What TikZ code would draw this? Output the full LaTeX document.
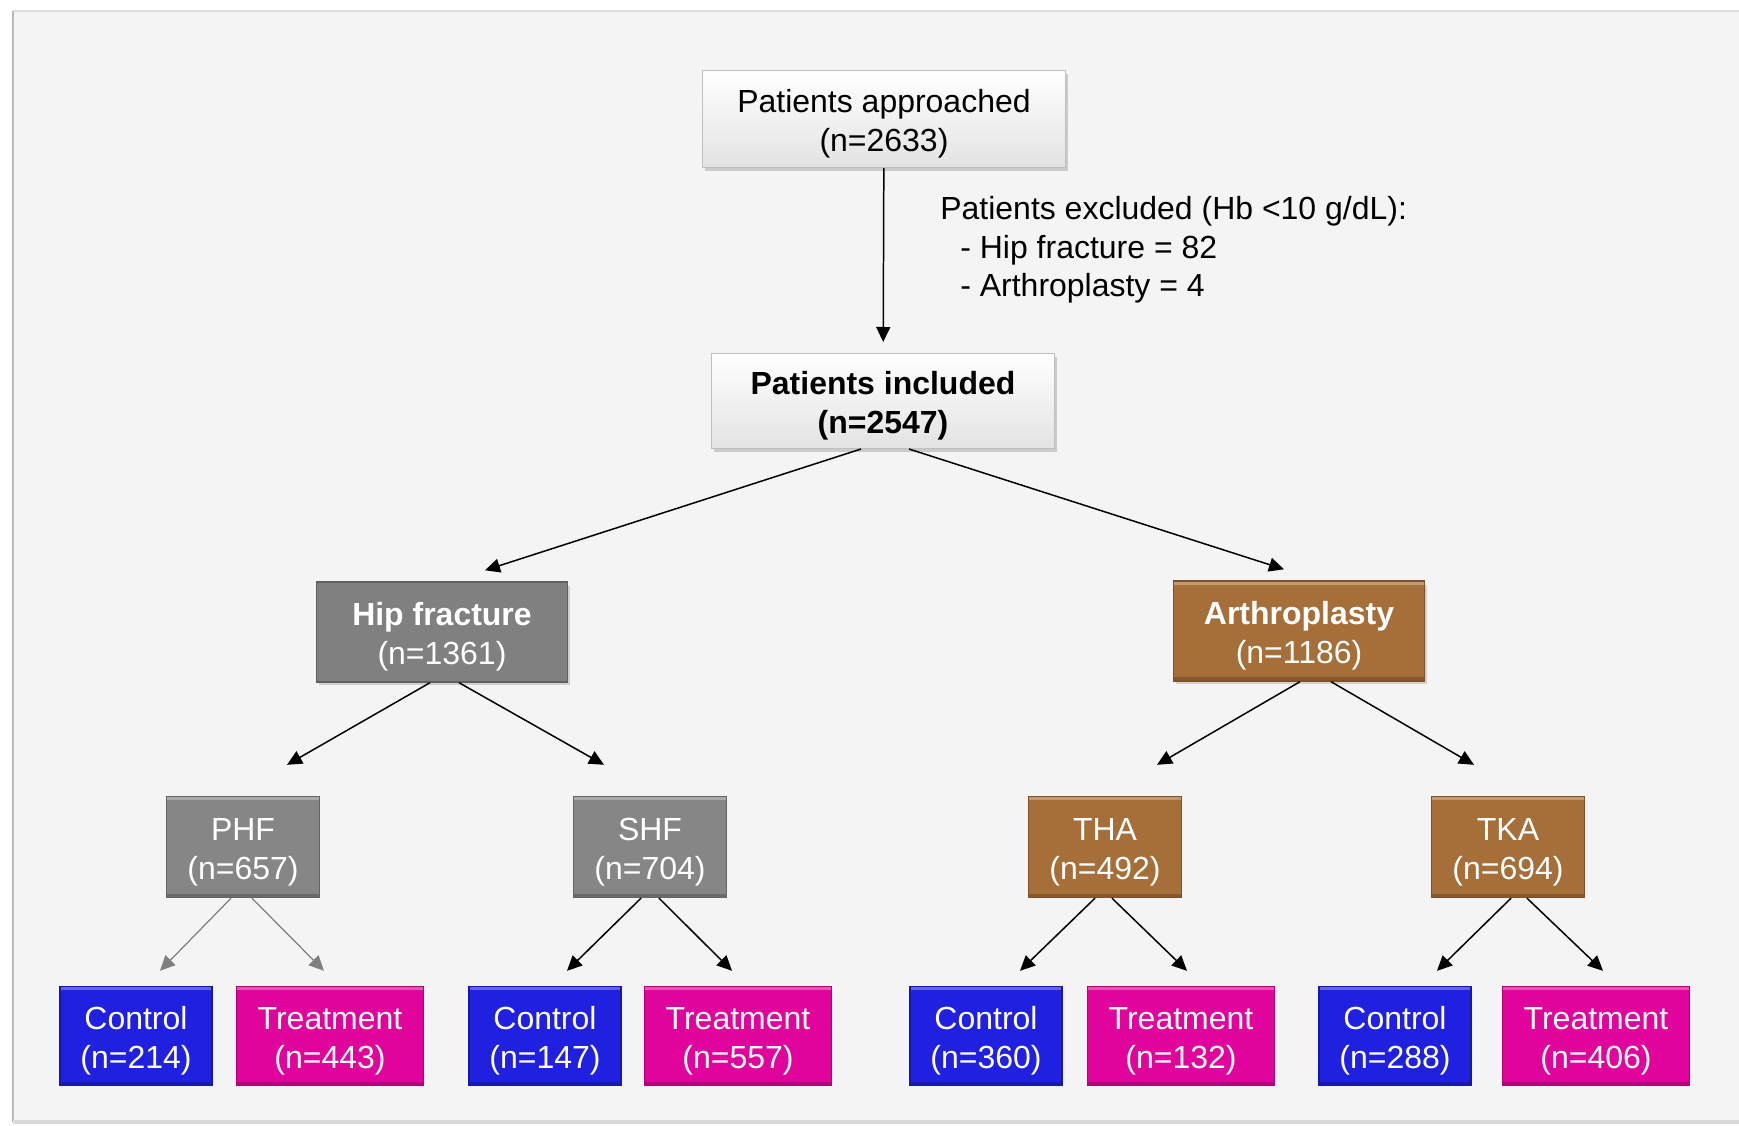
\documentclass[tikz,border=0pt]{standalone}
\usepackage{fontspec}
\setmainfont{Liberation Sans}
\usetikzlibrary{arrows.meta, positioning, shadows, calc}
\definecolor{panelgray}{HTML}{F4F4F4}
\definecolor{hipgray}{HTML}{808080}
\definecolor{subgray}{HTML}{868686}
\definecolor{arthrobrown}{HTML}{A66E38}
\definecolor{ctrlblue}{HTML}{2020E0}
\definecolor{treatpink}{HTML}{E1049C}

\begin{document}
\begin{tikzpicture}[
    x=0.02cm, y=-0.02cm,
    every node/.style={font=\fontsize{18.2}{22}\selectfont},
    boxtext/.style={align=center, inner sep=0pt, text height=40.5pt, text depth=3.8pt},
    whitebox/.style={rectangle, boxtext, draw=gray!50, line width=0.6pt, top color=white, bottom color=gray!22,
        drop shadow={shadow xshift=0.05cm, shadow yshift=-0.07cm, opacity=0.35}},
    colbox/.style={rectangle, boxtext, draw=#1!75!black, line width=0.8pt, fill=#1, text=white,
        path picture={
            \draw[#1!70!white, line width=4pt] (path picture bounding box.north west) -- (path picture bounding box.north east);
            \draw[#1!80!black, line width=4pt] (path picture bounding box.south west) -- (path picture bounding box.south east);
        }},
    catbox/.style={colbox=#1, minimum width=5.02cm, minimum height=2.0cm,
        drop shadow={shadow xshift=0.05cm, shadow yshift=-0.07cm, opacity=0.3}},
    subbox/.style={colbox=#1, minimum width=3.06cm, minimum height=2.02cm},
    ctrlbox/.style={colbox=ctrlblue, minimum width=3.04cm, minimum height=1.98cm},
    treatbox/.style={colbox=treatpink, minimum width=3.74cm, minimum height=1.98cm},
    arr/.style={-{Triangle[length=0.3cm, width=0.28cm]}, line width=0.85pt},
]

% panel
\useasboundingbox (0,0) rectangle (1739,1126);
\fill[panelgray] (13,11) rectangle (1739,1122);
\draw[gray!25, line width=1.5pt] (13,11) -- (1739,11);
\draw[gray!55, line width=1.2pt] (13,1122) -- (13,11);
\draw[gray!30, line width=2pt] (13,1122) -- (1739,1122);

% top part
\node[whitebox, minimum width=7.28cm, minimum height=1.94cm] (appr) at (884,119) {Patients approached\\(n=2633)};
\node[whitebox, minimum width=6.86cm, minimum height=1.9cm, font=\fontsize{18.2}{22}\selectfont\bfseries] (incl) at (883,401) {Patients included\\(n=2547)};
\node[anchor=north west, align=left, inner sep=0pt] (excl) at (940,196) {Patients excluded (Hb <10 g/dL):\\\hspace{0.4cm}- Hip fracture = 82\\\hspace{0.4cm}- Arthroplasty = 4};

% groups
\node[catbox=hipgray, path picture={\draw[green!45!black, line width=1.4pt] (path picture bounding box.north west) -- (path picture bounding box.north east) (path picture bounding box.south west) -- (path picture bounding box.south east);}] (hip) at (442,632) {\textbf{Hip fracture}\\(n=1361)};
\node[catbox=arthrobrown] (arth) at (1299,631) {\textbf{Arthroplasty}\\(n=1186)};

% subgroups
\node[subbox=subgray] (phf) at (243,847) {PHF\\(n=657)};
\node[subbox=subgray] (shf) at (650,847) {SHF\\(n=704)};
\node[subbox=arthrobrown] (tha) at (1105,847) {THA\\(n=492)};
\node[subbox=arthrobrown] (tka) at (1508,847) {TKA\\(n=694)};

% arms
\node[ctrlbox] (ctl1) at (136,1036) {Control\\(n=214)};
\node[treatbox] (trt1) at (330,1036) {Treatment\\(n=443)};
\node[ctrlbox] (ctl2) at (545,1036) {Control\\(n=147)};
\node[treatbox] (trt2) at (738,1036) {Treatment\\(n=557)};
\node[ctrlbox] (ctl3) at (986,1036) {Control\\(n=360)};
\node[treatbox] (trt3) at (1181,1036) {Treatment\\(n=132)};
\node[ctrlbox] (ctl4) at (1395,1036) {Control\\(n=288)};
\node[treatbox] (trt4) at (1596,1036) {Treatment\\(n=406)};

% connectors
\draw[arr, shorten >=0.22cm] (appr) -- (incl);
\draw[arr] ($(incl.south)+(-22,0)$) -- ($(hip.north)+(43,-11)$);
\draw[arr] ($(incl.south)+(26,0)$) -- ($(arth.north)+(-15,-11)$);

\draw[arr] ($(hip.south)+(-12,0)$) -- ($(phf.north)+(44,-31)$);
\draw[arr] ($(hip.south)+(17,0)$) -- ($(shf.north)+(-46,-31)$);
\draw[arr] ($(arth.south)+(1,0)$) -- ($(tha.north)+(52,-31)$);
\draw[arr] ($(arth.south)+(32,0)$) -- ($(tka.north)+(-34,-31)$);

\draw[arr, draw=hipgray, fill=hipgray, line width=0.7pt] ($(phf.south)+(-12,0)$) -- ($(ctl1.north)+(24,-15)$);
\draw[arr, draw=hipgray, fill=hipgray, line width=0.7pt] ($(phf.south)+(9,0)$) -- ($(trt1.north)+(-6,-15)$);
\draw[arr] ($(shf.south)+(-9,0)$) -- ($(ctl2.north)+(22,-15)$);
\draw[arr] ($(shf.south)+(9,0)$) -- ($(trt2.north)+(-6,-15)$);
\draw[arr] ($(tha.south)+(-10,0)$) -- ($(ctl3.north)+(34,-15)$);
\draw[arr] ($(tha.south)+(7,0)$) -- ($(trt3.north)+(6,-15)$);
\draw[arr] ($(tka.south)+(3,0)$) -- ($(ctl4.north)+(42,-15)$);
\draw[arr] ($(tka.south)+(19,0)$) -- ($(trt4.north)+(7,-15)$);

\end{tikzpicture}
\end{document}
